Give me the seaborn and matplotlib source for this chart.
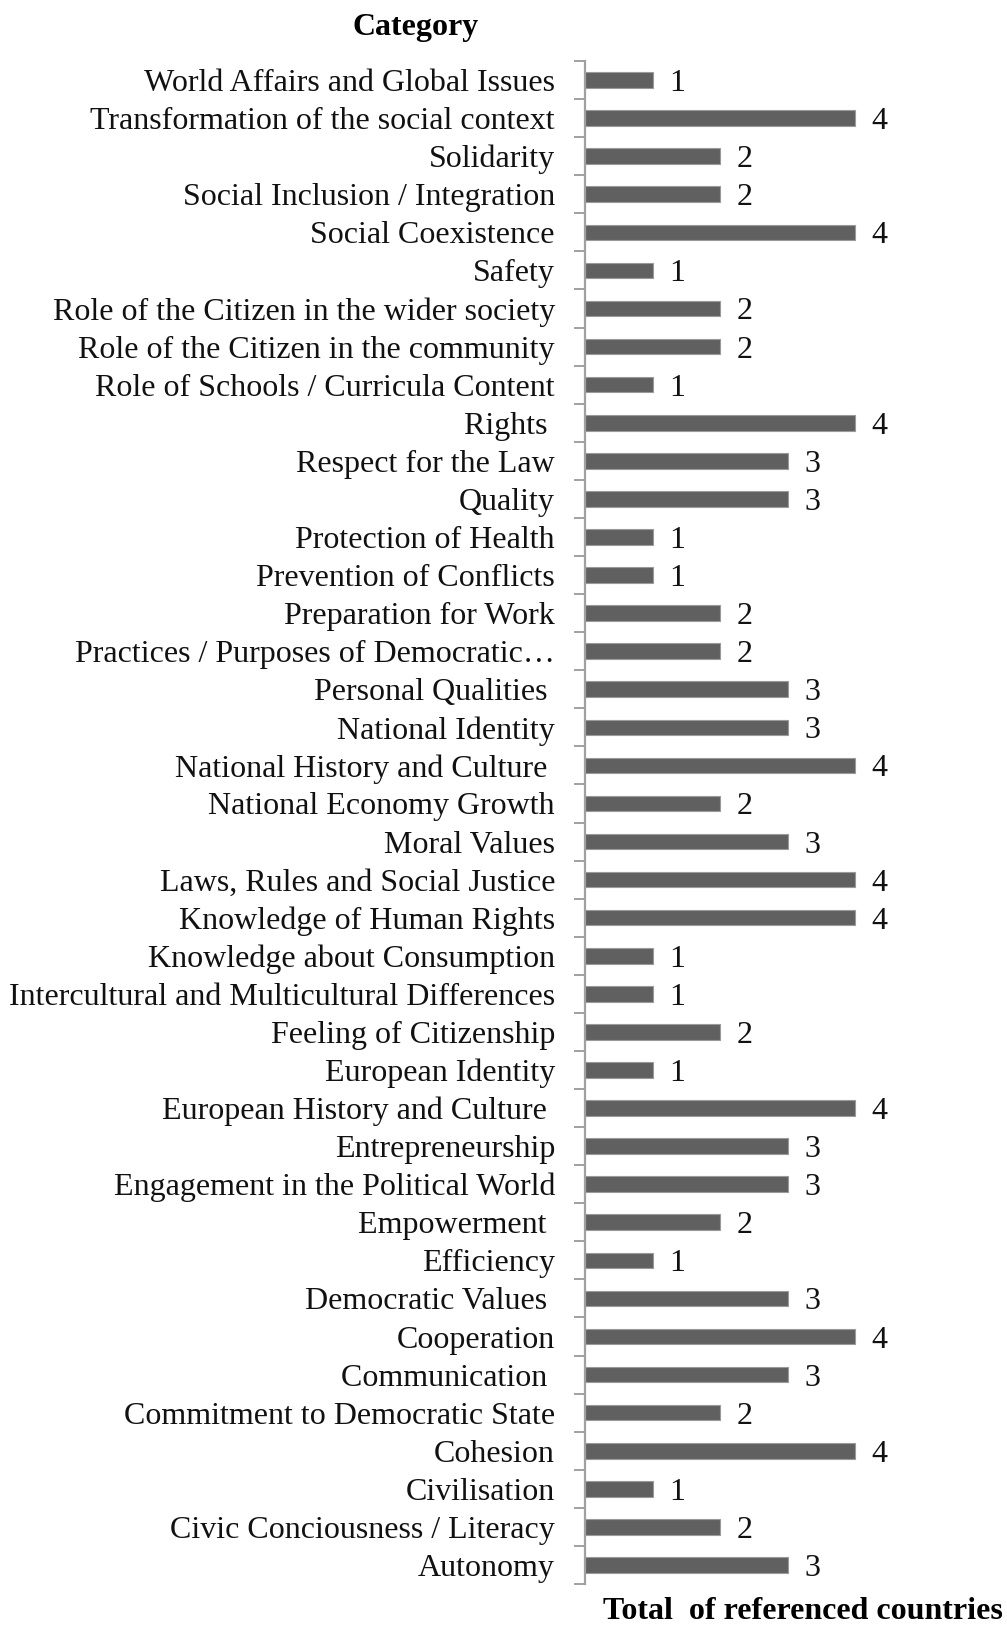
import matplotlib
matplotlib.use("Agg")
import matplotlib.pyplot as plt
import seaborn as sns
import numpy as np
import pandas as pd

categories = [
    "World Affairs and Global Issues",
    "Transformation of the social context",
    "Solidarity",
    "Social Inclusion / Integration",
    "Social Coexistence",
    "Safety",
    "Role of the Citizen in the wider society",
    "Role of the Citizen in the community",
    "Role of Schools / Curricula Content",
    "Rights ",
    "Respect for the Law",
    "Quality",
    "Protection of Health",
    "Prevention of Conflicts",
    "Preparation for Work",
    "Practices / Purposes of Democratic\u2026",
    "Personal Qualities ",
    "National Identity",
    "National History and Culture ",
    "National Economy Growth",
    "Moral Values",
    "Laws, Rules and Social Justice",
    "Knowledge of Human Rights",
    "Knowledge about Consumption",
    "Intercultural and Multicultural Differences",
    "Feeling of Citizenship",
    "European Identity",
    "European History and Culture ",
    "Entrepreneurship",
    "Engagement in the Political World",
    "Empowerment ",
    "Efficiency",
    "Democratic Values ",
    "Cooperation",
    "Communication ",
    "Commitment to Democratic State",
    "Cohesion",
    "Civilisation",
    "Civic Conciousness / Literacy",
    "Autonomy",
]
values = [1, 4, 2, 2, 4, 1, 2, 2, 1, 4, 3, 3, 1, 1, 2, 2, 3, 3, 4, 2,
          3, 4, 4, 1, 1, 2, 1, 4, 3, 3, 2, 1, 3, 4, 3, 2, 4, 1, 2, 3]

y_title = "Category"
x_title = "Total  of referenced countries"

sns.set_theme(style="white")
plt.rcParams["font.family"] = ["Liberation Serif", "DejaVu Serif"]

df = pd.DataFrame({"category": categories, "value": values})

W, H = 1007, 1625
fig = plt.figure(figsize=(W / 100, H / 100), dpi=100)
ax = fig.add_axes([585 / W, 1 - 1584 / H, (922.5 - 585) / W, (1584 - 61) / H])

sns.barplot(data=df, y="category", x="value", orient="h", color="#606060",
            saturation=1, width=0.41, edgecolor="#9a9a9a", linewidth=0.8, ax=ax)

ax.set_xlim(0, 5)
ax.set_ylim(len(categories) - 0.5, -0.5)

for c in ax.containers:
    labels = ax.bar_label(c, fmt="%d", padding=12, fontsize=23, color="#111111")
    for t in labels:
        t.set_verticalalignment("center_baseline")

ax.set_xlabel("")
ax.set_ylabel("")
ax.set_xticks([])
for s in ["top", "right", "bottom"]:
    ax.spines[s].set_visible(False)
ax.spines["left"].set_color("#a0a0a0")
ax.spines["left"].set_linewidth(1.6)

ax.set_yticks(np.arange(len(categories)))
ax.set_yticklabels(categories, fontsize=23, color="#111111")
ax.set_yticks(np.arange(len(categories) + 1) - 0.5, minor=True)
ax.tick_params(axis="y", which="major", length=0, pad=21.6)
ax.tick_params(axis="y", which="minor", length=8, width=1.4, color="#a0a0a0",
               direction="out", left=True)

fig.text(416 / W, 1 - 27 / H, y_title, ha="center", va="center",
         fontsize=23, fontweight="bold", color="#000000")
fig.text(603 / W, 1 - 1619 / H, x_title, ha="left", va="baseline",
         fontsize=23, fontweight="bold", color="#000000")

fig.savefig("out.png", dpi=100, facecolor="white")
